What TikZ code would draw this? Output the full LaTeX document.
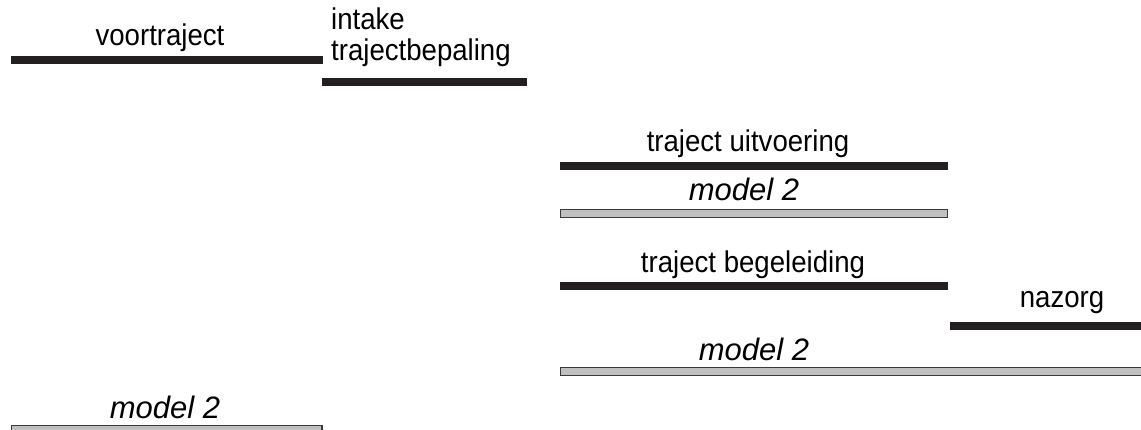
\documentclass[tikz,border=0pt]{standalone}
\usepackage{graphicx}
\usepackage{fontspec}
\setmainfont{Liberation Sans}
\definecolor{barblack}{HTML}{231F20}
\definecolor{barfill}{HTML}{C0C0C0}
\definecolor{baredge}{HTML}{3A3A3A}
% slightly condensed lettering
\newcommand{\narrowtext}[1]{\scalebox{0.92}[1]{#1}}
\begin{document}
\begin{tikzpicture}[x=1pt,y=-1pt,
  phasebar/.style={rectangle, fill=barblack, draw=none, inner sep=0pt, outer sep=0pt, anchor=north west},
  modelbar/.style={rectangle, fill=barfill, draw=baredge, line width=1.2pt, inner sep=0pt, outer sep=0pt, anchor=north west},
  label/.style={font=\fontsize{30}{34}\selectfont, inner sep=0pt, anchor=base},
  modellabel/.style={label, font=\fontsize{31}{35}\selectfont\itshape}]
\useasboundingbox (0,0) rectangle (1141,430);

% phases
\node[phasebar, minimum width=312pt, minimum height=8pt] (voorbar) at (11,56.5) {};
\node[label] (voor) at (160,46) {\narrowtext{voortraject}};

\node[phasebar, minimum width=205pt, minimum height=8pt] (intakebar) at (322,78) {};
\node[label, anchor=base west] (intake) at (331,30) {\narrowtext{intake}};
\node[label, anchor=base west] (bepaling) at (331,61) {\narrowtext{trajectbepaling}};

\node[phasebar, minimum width=388pt, minimum height=8pt] (uitvbar) at (560,162) {};
\node[label] (uitv) at (748,152) {\narrowtext{traject uitvoering}};

\node[phasebar, minimum width=388pt, minimum height=8.5pt] (begbar) at (560,282) {};
\node[label] (beg) at (753,273) {\narrowtext{traject begeleiding}};

\node[phasebar, minimum width=191pt, minimum height=8pt] (nazbar) at (950,322) {};
\node[label] (naz) at (1062,308) {\narrowtext{nazorg}};

% model bars
\node[modelbar, minimum width=387pt, minimum height=8pt] (m1bar) at (560.5,209.5) {};
\node[modellabel] (m1) at (744,201) {model 2};

\node[modelbar, minimum width=582pt, minimum height=8pt] (m2bar) at (560.5,367.5) {};
\node[modellabel] (m2) at (754,361) {model 2};

\node[modelbar, minimum width=310.5pt, minimum height=10pt] (m3bar) at (11.5,425.5) {};
\node[modellabel] (m3) at (165,418) {model 2};
\end{tikzpicture}
\end{document}
